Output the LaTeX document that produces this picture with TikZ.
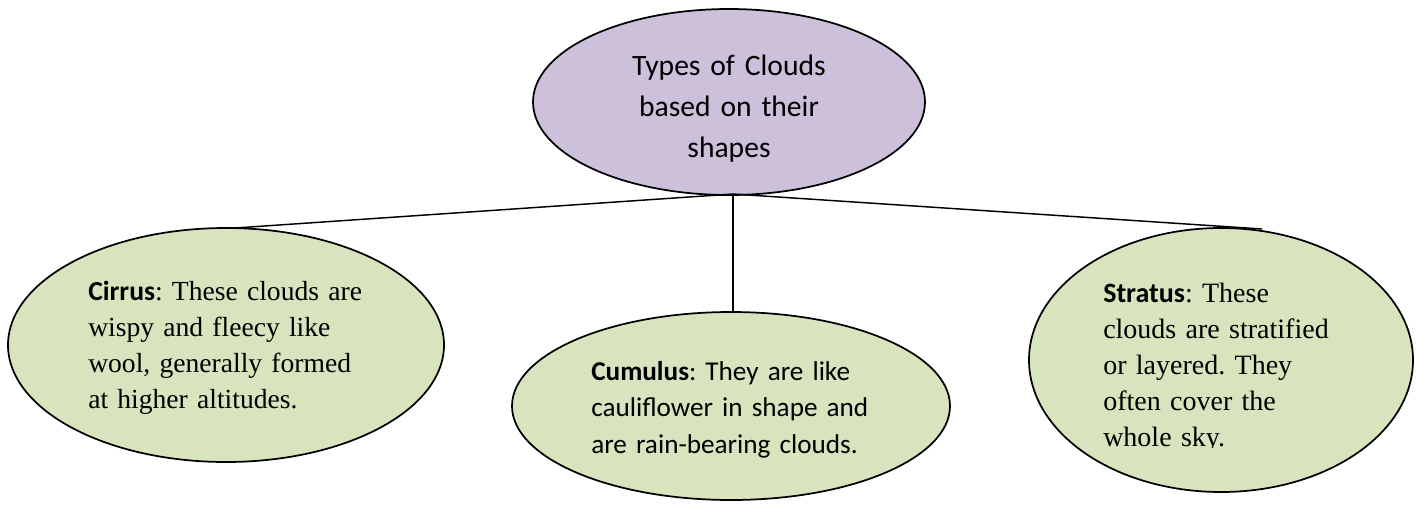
\documentclass[tikz,border=0pt]{standalone}
\usepackage{fontspec}
\setmainfont{Liberation Serif}
\newfontfamily\calfont{Carlito}
\usetikzlibrary{shapes.geometric}
\definecolor{purplefill}{HTML}{CCC0DA}
\definecolor{greenfill}{HTML}{D7E4BD}
\frenchspacing
\tikzset{
  bubble/.style={ellipse, draw=black, line width=1.3pt, inner sep=0pt},
  link/.style={draw=black, line width=1.1pt},
  bodytext/.style={inner sep=0pt, align=left, text width=260pt, anchor=base west},
}
\begin{document}
\begin{tikzpicture}[x=0.75pt,y=-0.75pt]
\useasboundingbox (0,0) rectangle (1416,504);
% ellipses
\node[bubble, fill=purplefill, minimum width=294pt, minimum height=139.5pt] (top) at (729,102) {};
\node[bubble, fill=greenfill, minimum width=327pt, minimum height=175.5pt] (cirrus) at (226,345) {};
\node[bubble, fill=greenfill, minimum width=328.5pt, minimum height=141pt] (cumulus) at (731,406) {};
\node[bubble, fill=greenfill, minimum width=288pt, minimum height=198pt] (stratus) at (1221,360) {};
% connectors
\coordinate (hub) at (733,194);
\coordinate (lend) at (235,228);
\coordinate (rend) at (1262,229);
\draw[link] (hub) -- (lend);
\draw[link] (hub) -- (rend);
\draw[link] (hub) -- (hub |- cumulus.north);
% texts
\node[inner sep=0pt, align=center, text width=280pt, anchor=base,
      font={\calfont\fontsize{22.2pt}{30.75pt}\selectfont}] (toptext) at (729,75)
  {Types of Clouds\\based on their\\shapes};
\node[bodytext, font={\fontsize{20.7pt}{27pt}\selectfont}] (cirrustext) at (88,300)
  {{\calfont\bfseries Cirrus}: These clouds are\\wispy and fleecy like\\wool, generally formed\\at higher altitudes.};
\node[bodytext, font={\calfont\fontsize{20.4pt}{27.4pt}\selectfont}] (cumulustext) at (591,380)
  {{\bfseries Cumulus}: They are like\\cauliflower in shape and\\are rain-bearing clouds.};
\begin{scope}
\clip (1000,250) rectangle (1416,447);
\node[bodytext, font={\fontsize{21pt}{27pt}\selectfont}] (stratustext) at (1103,302)
  {{\calfont\bfseries Stratus}: These\\clouds are stratified\\or layered. They\\often cover the\\whole sky.};
\end{scope}
\end{tikzpicture}
\end{document}
